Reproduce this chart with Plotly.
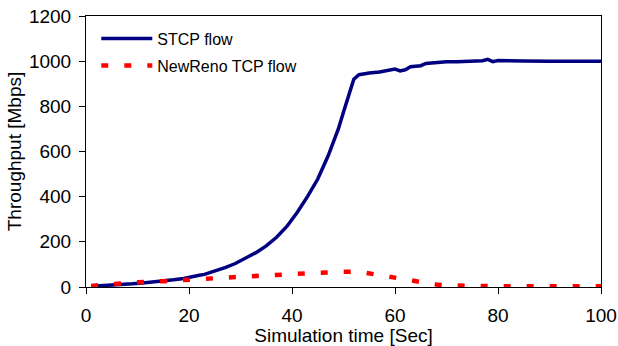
import plotly.graph_objects as go

# STCP flow throughput (Mbps) vs simulation time (s)
stcp_t = [1, 3, 5, 7, 9, 11, 13, 15, 17, 19, 21, 22, 23, 25, 27, 29, 31, 33, 35,
          37, 39, 41, 43, 45, 47, 49, 50, 51, 52, 53, 54, 55, 57, 59, 60, 61, 62,
          63, 64, 65, 66, 68, 70, 72, 74, 76, 77, 78, 79, 80, 82, 85, 90, 95, 98, 100]
stcp_v = [3, 5, 8, 11, 14, 18, 22, 27, 32, 38, 45, 52, 56, 70, 86, 104, 126, 152, 182,
          220, 268, 330, 400, 478, 580, 700, 775, 850, 920, 940, 945, 948, 952, 960, 965, 957, 962,
          975, 978, 980, 990, 995, 997, 997, 998, 999, 1002, 1008, 998, 1003, 1001, 1001, 1000, 1000, 1001, 1000]

# NewReno TCP flow throughput (Mbps)
reno_t = [1, 5, 10, 15, 20, 25, 30, 35, 40, 45, 50, 52, 54, 56, 58, 60, 62, 64, 66,
          68, 70, 74, 78, 82, 90, 100]
reno_v = [5, 14, 21, 26, 31, 40, 45, 51, 58, 63, 67, 68, 64, 56, 50, 44, 35, 25, 17,
          11, 7, 5, 4, 3, 3, 3]

x_ticks = [0, 20, 40, 60, 80, 100]
y_ticks = [0, 200, 400, 600, 800, 1000, 1200]

FONT = "Liberation Sans, Arial, sans-serif"

fig = go.Figure()
fig.add_trace(go.Scatter(x=stcp_t, y=stcp_v, mode="lines", name="STCP flow",
                         legendgroup="a",
                         line=dict(color="#000080", width=3.5)))
fig.add_trace(go.Scatter(x=reno_t, y=reno_v, mode="lines", name="NewReno TCP flow",
                         legendgroup="b",
                         line=dict(color="#FF0000", width=4.5, dash="7px,16px")))

axis_common = dict(showline=True, linecolor="black", linewidth=1, mirror=True,
                   ticks="outside", ticklen=6, tickcolor="black", showgrid=False,
                   zeroline=False, automargin=False,
                   tickfont=dict(size=19, color="black", family=FONT))

fig.update_xaxes(range=[0, 100], tickvals=x_ticks, ticklabelstandoff=5,
                 title=dict(text="Simulation time [Sec]", font=dict(size=19, color="black", family=FONT),
                            standoff=0),
                 **axis_common)
fig.update_yaxes(range=[0, 1200], tickvals=y_ticks, ticklabelstandoff=4,
                 title=dict(text="Throughput [Mbps]", font=dict(size=19, color="black", family=FONT),
                            standoff=2),
                 **axis_common)

fig.update_layout(
    width=618, height=346,
    margin=dict(l=86, r=17, t=16, b=59),
    paper_bgcolor="white", plot_bgcolor="white",
    font=dict(family=FONT, color="black"),
    showlegend=True,
    legend=dict(x=0.02, y=0.979, xanchor="left", yanchor="top",
                bgcolor="rgba(0,0,0,0)", font=dict(size=16, color="black", family=FONT),
                itemwidth=51, tracegroupgap=3, traceorder="grouped"),
)

fig.write_html("out.html")
